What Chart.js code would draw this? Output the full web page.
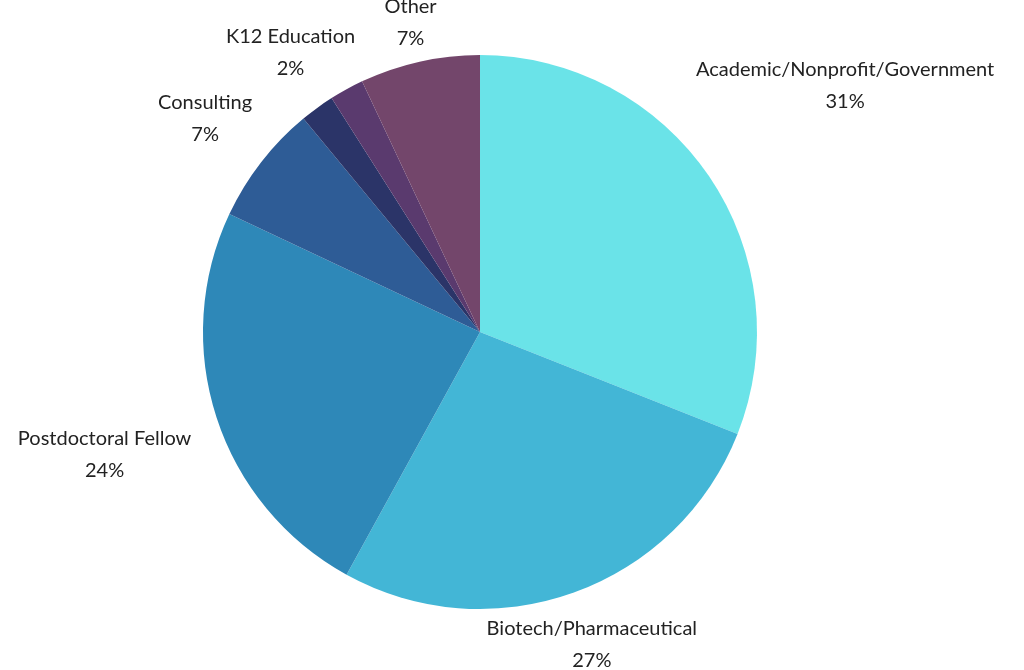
<!DOCTYPE html>
<html><head><meta charset="utf-8">
<script src="https://cdn.jsdelivr.net/npm/chart.js@4"></script>
<style>html,body{margin:0;background:#fff}#w{width:1024px;height:670px}</style>
</head><body><div id="w"><canvas id="c"></canvas></div>
<script>
const categories = ["Academic/Nonprofit/Government","Biotech/Pharmaceutical","Postdoctoral Fellow","Consulting","","K12 Education","Other"];
const values = [31,27,24,7,2,2,7];
const pctLabels = ["31%","27%","24%","7%","","2%","7%"];
const colors = ["#6ae3e8","#43b6d6","#2e88b8","#2e5c96","#2b3468","#5a3a6e","#73466b"];
const labelShift = [[136,-91],[18,52],[-112,37],[-56,-44],[0,0],[-56,-37],[-9,-39]];
const labelPlugin = {
  id:'lbl',
  afterDraw(chart){
    const ctx = chart.ctx, meta = chart.getDatasetMeta(0);
    ctx.save();
    ctx.font = '20px Lato, sans-serif';
    ctx.fillStyle = '#222';
    ctx.textAlign = 'center'; ctx.textBaseline = 'middle';
    meta.data.forEach((arc,i)=>{
      if(!categories[i]) return;
      const a = (arc.startAngle+arc.endAngle)/2;
      const x = arc.x + Math.cos(a)*arc.outerRadius + labelShift[i][0];
      const y = arc.y + Math.sin(a)*arc.outerRadius + labelShift[i][1];
      ctx.fillText(categories[i], x, y-16);
      ctx.fillText(pctLabels[i], x, y+16);
    });
    ctx.restore();
  }
};
new Chart(document.getElementById('c'),{
  type:'pie',
  data:{labels:categories,datasets:[{data:values,backgroundColor:colors,borderWidth:0}]},
  options:{responsive:true,maintainAspectRatio:false,animation:false,
    layout:{padding:{left:203,right:267,top:55,bottom:61}},
    plugins:{legend:{display:false},tooltip:{enabled:false}}},
  plugins:[labelPlugin]
});
</script></body></html>
